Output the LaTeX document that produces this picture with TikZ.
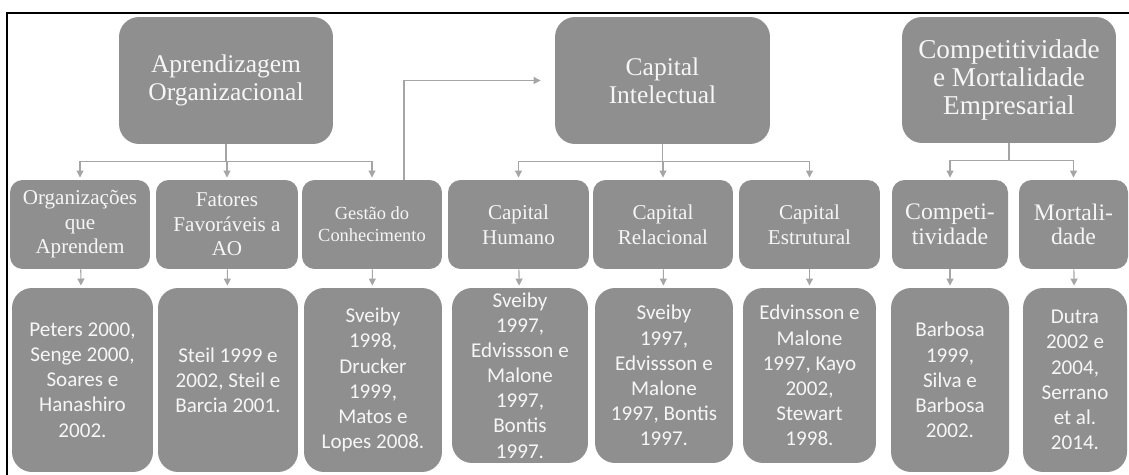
\documentclass[tikz,border=0pt]{standalone}
\usepackage{fontspec}
\setmainfont{Liberation Serif}
\newfontfamily\calib{Carlito}
\usepackage{tikz}
\usetikzlibrary{arrows.meta}

\definecolor{boxgray}{RGB}{143,143,143}
\definecolor{boxtext}{RGB}{246,246,246}
\definecolor{linegray}{RGB}{165,165,165}

\tikzset{
  topbox/.style={fill=boxgray,text=boxtext,rounded corners=0.4cm,align=center,inner sep=0pt,
    font=\fontsize{14.5}{16}\selectfont},
  midbox/.style={fill=boxgray,text=boxtext,rounded corners=0.25cm,align=center,inner sep=0pt,
    font=\fontsize{12}{14}\selectfont},
  refbox/.style={fill=boxgray,text=boxtext,rounded corners=0.4cm,align=center,inner sep=0pt,
    font=\calib\fontsize{12}{14.3}\selectfont},
  link/.style={draw=linegray,line width=0.6pt,shorten >=1.2pt},
  branch/.style={link,->,to path={-- ++(0,17) -| (\tikztotarget)}},
}

\begin{document}
\begin{tikzpicture}[x=0.02cm,y=-0.02cm,>={Triangle[length=4pt,width=4pt]}]
	\useasboundingbox (0,0) rectangle (1129,475);
	\draw[line width=1.3pt] (1129,13) -- (7,13) -- (7,475);
	% top row
	\node[topbox,minimum width=4.28cm,minimum height=2.54cm] (s1) at (226,80.5) {Aprendizagem\\Organizacional};
	\node[topbox,minimum width=4.30cm,minimum height=2.54cm] (s2) at (662.5,80.5) {Capital\\Intelectual};
	\node[topbox,minimum width=4.28cm,minimum height=2.52cm,font=\fontsize{15.5}{16}\selectfont] (s3) at (1009,80) {Competitividade\\e Mortalidade\\Empresarial};
	% middle row
	\node[midbox,minimum width=2.80cm,minimum height=1.78cm] (r1) at (80,224.5) {Organizações\\que\\Aprendem};
	\node[midbox,minimum width=2.84cm,minimum height=1.78cm] (r2) at (227,224.5) {Fatores\\Favoráveis a\\AO};
	\node[midbox,minimum width=2.80cm,minimum height=1.78cm,font=\fontsize{10.5}{12.6}\selectfont] (r3) at (372,224.5) {Gestão do\\Conhecimento};
	\node[midbox,minimum width=2.82cm,minimum height=1.78cm] (r4) at (518.5,224.5) {Capital\\Humano};
	\node[midbox,minimum width=2.80cm,minimum height=1.78cm] (r5) at (663,224.5) {Capital\\Relacional};
	\node[midbox,minimum width=2.82cm,minimum height=1.78cm] (r6) at (809.5,224.5) {Capital\\Estrutural};
	\node[midbox,minimum width=2.32cm,minimum height=1.78cm,font=\fontsize{13.5}{14}\selectfont] (r7) at (950,224.5) {Competi-\\tividade};
	\node[midbox,minimum width=2.18cm,minimum height=1.78cm,font=\fontsize{13.5}{14}\selectfont] (r8) at (1073.5,224.5) {Mortali-\\dade};
	% bottom row
	\node[refbox,minimum width=2.82cm,minimum height=3.68cm] (t1) at (82.5,380) {Peters 2000,\\Senge 2000,\\Soares e\\Hanashiro\\2002.};
	\node[refbox,minimum width=2.80cm,minimum height=3.68cm] (t2) at (228,380) {Steil 1999 e\\2002, Steil e\\Barcia 2001.};
	\node[refbox,minimum width=2.76cm,minimum height=3.68cm] (t3) at (373,380) {Sveiby\\1998,\\Drucker\\1999,\\Matos e\\Lopes 2008.};
	\node[refbox,minimum width=2.72cm,minimum height=3.50cm] (t4) at (520,375.5) {Sveiby\\1997,\\Edvissson e\\Malone\\1997,\\Bontis\\1997.};
	\node[refbox,minimum width=2.76cm,minimum height=3.50cm] (t5) at (664,375.5) {Sveiby\\1997,\\Edvissson e\\Malone\\1997, Bontis\\1997.};
	\node[refbox,minimum width=2.66cm,minimum height=3.50cm] (t6) at (809.5,375.5) {Edvinsson e\\Malone\\1997, Kayo\\2002,\\Stewart\\1998.};
	\node[refbox,minimum width=2.36cm,minimum height=3.68cm] (t7) at (950,380) {Barbosa\\1999,\\Silva e\\Barbosa\\2002.};
	\node[refbox,minimum width=2.08cm,minimum height=3.68cm] (t8) at (1075,380) {Dutra\\2002 e\\2004,\\Serrano\\et al.\\2014.};
	\coordinate (g1) at (404,180);
	\path
	(s1.south) edge[branch] (r1.north)
	(s1.south) edge[branch] (r2.north)
	(s1.south) edge[branch] (r3.north)
	(s2.south) edge[branch] (r4.north)
	(s2.south) edge[branch] (r5.north)
	(s2.south) edge[branch] (r6.north)
	(s3.south) edge[branch] (r7.north)
	(s3.south) edge[branch] (r8.north)
	(r1) edge[link,->] (t1)
	(r2) edge[link,->] (t2)
	(r3) edge[link,->] (t3)
	(r4) edge[link,->] (t4)
	(r5) edge[link,->] (t5)
	(r6) edge[link,->] (t6)
	(r7) edge[link,->] (t7)
	(r8) edge[link,->] (t8)
	(g1) edge[link,->,to path={|- (\tikztotarget)}] ([xshift=-0.24cm]s2.west)
	;
\end{tikzpicture}
\end{document}
